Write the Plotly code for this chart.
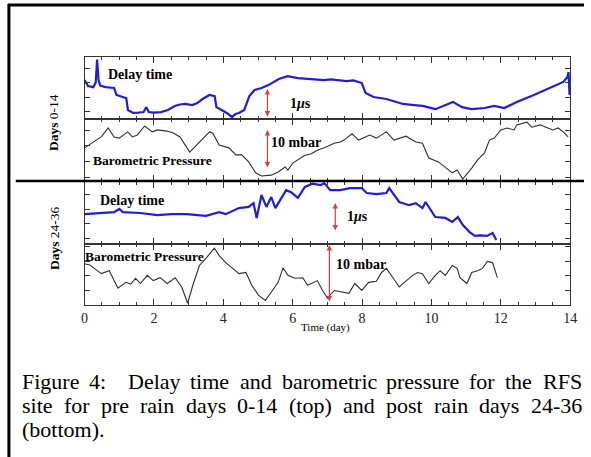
import plotly.graph_objects as go

W, H = 591, 457

# ---------------- data ----------------
top_delay_day = [0.00, 0.10, 0.25, 0.32, 0.36, 0.40, 0.45, 0.60, 0.85, 0.92, 1.10, 1.20, 1.25, 1.40, 1.55,
                 1.70, 1.78, 1.85, 2.00, 2.20, 2.40, 2.60, 2.75, 2.90, 3.10, 3.25, 3.40, 3.60, 3.75, 3.80,
                 3.95, 4.10, 4.25, 4.35, 4.45, 4.60, 4.75, 4.90, 5.10, 5.30, 5.60, 5.85, 6.15, 6.50, 6.90,
                 7.10, 7.30, 7.55, 7.75, 7.90, 7.99, 8.10, 8.33, 8.70, 9.00, 9.18, 9.50, 9.75, 10.11, 10.40,
                 10.62, 10.88, 11.16, 11.53, 11.81, 12.10, 12.46, 12.95, 13.43, 13.80, 13.92, 13.95, 13.98]
top_delay_us = [1.34, 1.14, 1.10, 1.25, 2.05, 1.35, 1.15, 1.10, 1.07, 0.83, 0.76, 0.72, 0.31, 0.21, 0.22,
                0.24, 0.41, 0.24, 0.22, 0.24, 0.31, 0.45, 0.50, 0.52, 0.48, 0.55, 0.69, 0.83, 0.79, 0.41,
                0.31, 0.21, 0.07, 0.17, 0.21, 0.31, 0.79, 1.00, 1.07, 1.17, 1.38, 1.48, 1.41, 1.38, 1.34,
                1.37, 1.34, 1.31, 1.33, 1.28, 1.24, 0.90, 0.76, 0.69, 0.60, 0.52, 0.48, 0.45, 0.34, 0.48,
                0.59, 0.41, 0.34, 0.38, 0.45, 0.38, 0.59, 0.83, 1.07, 1.28, 1.45, 1.62, 0.83]

top_press_day = [0.00, 0.20, 0.48, 0.68, 0.85, 1.00, 1.24, 1.38, 1.52, 1.73, 1.95, 2.09, 2.37, 2.56, 2.75,
                 3.03, 3.22, 3.41, 3.60, 3.69, 3.88, 4.16, 4.36, 4.53, 4.73, 4.93, 5.10, 5.38, 5.58, 5.78,
                 5.86, 6.00, 6.15, 6.35, 6.52, 6.71, 6.91, 7.08, 7.20, 7.37, 7.48, 7.71, 7.90, 8.22, 8.41,
                 8.70, 8.92, 9.26, 9.55, 9.74, 9.92, 10.20, 10.40, 10.60, 10.74, 10.90, 11.16, 11.33, 11.53,
                 11.67, 11.81, 12.00, 12.18, 12.38, 12.46, 12.75, 12.89, 13.14, 13.30, 13.50, 13.65, 13.80,
                 13.94]
top_press_mbar = [8.5, 9.7, 11.3, 13.6, 11.3, 11.0, 12.6, 11.3, 11.8, 14.1, 12.6, 13.1, 12.8, 12.3, 11.3,
                  7.4, 9.2, 11.0, 12.6, 12.3, 9.2, 8.5, 6.7, 6.7, 4.9, 2.1, 1.3, 1.5, 2.3, 3.6,
                  2.8, 4.6, 5.4, 6.6, 6.9, 7.9, 8.5, 9.2, 9.7, 10.0, 10.5, 12.1, 10.5, 11.8, 11.0,
                  12.6, 10.5, 11.5, 10.0, 9.7, 5.9, 4.9, 3.6, 2.1, 2.8, 0.5, 3.3, 5.4, 7.2,
                  10.5, 11.0, 13.1, 13.6, 13.1, 14.4, 15.1, 13.8, 14.4, 13.8, 13.1, 13.6, 12.6,
                  11.3]

bot_delay_day = [0.00, 0.48, 0.85, 1.00, 1.10, 1.60, 2.10, 2.50, 2.94, 3.50, 3.88, 4.07, 4.45, 4.73, 4.87,
                 4.96, 5.10, 5.24, 5.38, 5.50, 5.67, 5.81, 5.95, 6.15, 6.35, 6.57, 6.80, 6.91, 7.08, 7.37,
                 7.65, 7.99, 8.13, 8.41, 8.70, 8.78, 9.07, 9.35, 9.55, 9.74, 9.83, 10.11, 10.40, 10.60,
                 10.76, 10.90, 11.10, 11.25, 11.40, 11.60, 11.76, 11.87]
bot_delay_us = [1.03, 1.07, 1.10, 1.21, 1.10, 1.07, 1.00, 1.03, 1.03, 0.97, 1.10, 1.03, 1.24, 1.28, 1.41,
                0.90, 1.69, 1.28, 1.62, 1.24, 1.59, 1.86, 1.79, 1.59, 1.97, 2.08, 2.03, 2.10, 1.86, 1.86,
                1.93, 1.93, 1.76, 1.72, 1.76, 1.93, 1.45, 1.34, 1.41, 1.24, 1.45, 0.93, 0.90, 0.76,
                0.93, 0.66, 0.41, 0.28, 0.30, 0.28, 0.38, 0.14]

bot_press_day = [0.00, 0.15, 0.48, 0.71, 0.96, 1.19, 1.33, 1.47, 1.61, 1.81, 1.98, 2.18, 2.38, 2.61, 2.80,
                 2.97, 3.12, 3.31, 3.51, 3.74, 3.88, 4.07, 4.25, 4.45, 4.65, 4.82, 5.01, 5.21, 5.38, 5.58,
                 5.72, 5.86, 6.06, 6.29, 6.43, 6.71, 6.86, 7.00, 7.20, 7.42, 7.62, 7.79, 7.99, 8.19, 8.41,
                 8.56, 8.70, 8.90, 9.07, 9.26, 9.46, 9.60, 9.74, 9.92, 10.11, 10.25, 10.40, 10.60, 10.74,
                 10.82, 11.02, 11.16, 11.33, 11.47, 11.61, 11.76, 11.90]
bot_press_mbar = [7.1, 6.9, 5.4, 5.9, 2.9, 3.9, 3.6, 4.6, 3.7, 5.1, 4.2, 4.7, 3.7, 4.7, 3.1,
                  0.3, 3.4, 6.8, 8.1, 9.8, 8.5, 7.3, 6.4, 5.4, 5.6, 3.4, 1.7, 0.8, 2.2, 3.9,
                  6.4, 5.1, 4.6, 4.7, 3.4, 4.2, 2.5, 1.2, 2.5, 2.2, 2.0, 3.7, 2.5, 3.9, 4.1,
                  5.6, 6.3, 4.6, 3.1, 4.1, 5.1, 5.6, 5.4, 3.7, 5.1, 5.9, 5.1, 6.8, 6.3,
                  4.7, 3.7, 5.6, 5.9, 6.3, 7.5, 7.3, 4.7]

x_tick_labels = ["0", "2", "4", "6", "8", "10", "12", "14"]

caption_lines = ["Figure 4:  Delay time and barometric pressure for the RFS",
                 "site for pre rain days 0-14 (top) and post rain days 24-36",
                 "(bottom)."]

# ---------------- helpers ----------------
def px(x):
    return x / W


def py(y):
    return 1 - y / H


SERIF = "Liberation Serif, Times New Roman, serif"
BLUE = "#1f1fd2"
GRAY = "#2e2e2e"
RED = "#e03a3a"
AX = "#333333"

fig = go.Figure()
fig.add_trace(go.Scatter(x=top_delay_day, y=top_delay_us, xaxis="x", yaxis="y", mode="lines",
                         line=dict(color=BLUE, width=2.2)))
fig.add_trace(go.Scatter(x=top_press_day, y=top_press_mbar, xaxis="x2", yaxis="y2", mode="lines",
                         line=dict(color=GRAY, width=1.1)))
fig.add_trace(go.Scatter(x=bot_delay_day, y=bot_delay_us, xaxis="x3", yaxis="y3", mode="lines",
                         line=dict(color=BLUE, width=2.2)))
fig.add_trace(go.Scatter(x=bot_press_day, y=bot_press_mbar, xaxis="x4", yaxis="y4", mode="lines",
                         line=dict(color=GRAY, width=1.1)))

rows = [(57, 119), (119, 181), (182, 244), (244, 305)]
yranges = [[0, 2.14], [0, 15.9], [0, 2.14], [0, 10.5]]
ydt = [(0.25, 0.5), (1, 4), (0.2, 0.5), (0, 2.5)]

layout = dict(width=W, height=H, autosize=False, margin=dict(l=0, r=0, t=0, b=0),
              paper_bgcolor="white", plot_bgcolor="white", showlegend=False)

for i in range(4):
    sx = "" if i == 0 else str(i + 1)
    top, bot = rows[i]
    layout["xaxis" + sx] = dict(
        domain=[px(83), px(577)], range=[0, 14], anchor="y" + sx,
        showline=True, linecolor=AX, linewidth=1, mirror="ticks",
        ticks="inside", ticklen=6, tickcolor=AX, tickwidth=1,
        tickvals=[0, 2, 4, 6, 8, 10, 12, 14], ticktext=x_tick_labels,
        showticklabels=(i == 3), showgrid=False, zeroline=False,
        tickfont=dict(family=SERIF, size=14, color="#222"),
        minor=dict(dtick=0.5, tick0=0, ticks="inside", ticklen=3, tickcolor=AX, showgrid=False),
        fixedrange=True)
    layout["yaxis" + sx] = dict(
        domain=[py(bot), py(top)], range=yranges[i], anchor="x" + sx,
        showline=True, linecolor=AX, linewidth=1, mirror="ticks",
        ticks="inside", ticklen=5, tickcolor=AX, tick0=ydt[i][0], dtick=ydt[i][1],
        showticklabels=False, showgrid=False, zeroline=False, fixedrange=True)

fig.update_layout(**layout)

ann = []


def label(text, x, y, size, angle=0):
    ann.append(dict(text=text, x=px(x), y=py(y), xref="paper", yref="paper", showarrow=False,
                    xanchor="center", yanchor="middle", textangle=angle,
                    font=dict(family=SERIF, size=size, color="black")))


label("<b>Delay time</b>", 139, 75, 14)
label("<b>Barometric Pressure</b>", 152, 160, 13.5)
label("<b>1<i>μ</i>s</b>", 303, 103, 14)
label("<b>10 mbar</b>", 298, 143, 14)
label("<b>Delay time</b>", 131, 200, 14)
label("<b>Barometric Pressure</b>", 144, 256, 13.5)
label("<b>1<i>μ</i>s</b>", 361, 217, 14)
label("<b>10 mbar</b>", 364, 264, 14)
label("<b>Days</b> 0-14", 52, 123, 13.5, -90)
label("<b>Days</b> 24-36", 52, 238, 13.5, -90)
label("Time (day)", 328, 327, 11)


def arrow(x, y0, y1):
    ann.append(dict(text="", x=px(x), y=py(y0), xref="paper", yref="paper", showarrow=True,
                    ax=0, ay=(y1 - y0), axref="pixel", ayref="pixel",
                    arrowhead=2, arrowside="end+start", arrowsize=0.9, arrowwidth=1.2,
                    arrowcolor=RED))


arrow(269, 89, 118)
arrow(269, 130, 169)
arrow(338, 203, 232)
arrow(332, 245, 303)

# caption (justified lines built word by word)
TW = {" ": 250, "(": 333, ")": 333, "-": 333, ".": 250, ":": 278, "F": 556, "D": 722, "R": 667,
      "S": 556, "a": 444, "b": 500, "c": 444, "d": 500, "e": 444, "f": 333, "g": 500, "h": 500,
      "i": 278, "l": 278, "m": 778, "n": 500, "o": 500, "p": 500, "r": 333, "s": 389, "t": 278,
      "u": 500, "y": 500}


def tw(s, fs):
    return sum(TW.get(c, 500) for c in s) * fs / 1000.0


CAP_FS = 22
x_left, x_right = 18, 587
centers = [381, 405, 429]
for li, line in enumerate(caption_lines):
    toks = line.split(" ")
    nsp = len(toks) - 1
    natural = sum(tw(t, CAP_FS) for t in toks) + nsp * tw(" ", CAP_FS)
    if li < 2:
        sp = tw(" ", CAP_FS) + (x_right - x_left - natural) / nsp
    else:
        sp = tw(" ", CAP_FS)
    cur = x_left
    for t in toks:
        if t:
            ann.append(dict(text=t, x=px(cur - 1), y=py(centers[li]), xref="paper", yref="paper",
                            showarrow=False, xanchor="left", yanchor="middle",
                            font=dict(family=SERIF, size=CAP_FS, color="black")))
        cur += tw(t, CAP_FS) + sp

fig.update_layout(annotations=ann)

shapes = [
    dict(type="line", xref="paper", yref="paper", x0=px(13), x1=1, y0=py(181), y1=py(181),
         line=dict(color="black", width=2.5)),
    dict(type="line", xref="paper", yref="paper", x0=px(6), x1=px(6), y0=py(4), y1=0,
         line=dict(color="black", width=3)),
    dict(type="line", xref="paper", yref="paper", x0=px(5), x1=1, y0=py(5), y1=py(5),
         line=dict(color="black", width=3)),
]
fig.update_layout(shapes=shapes)

fig.write_html("out.html", config={"displayModeBar": False, "staticPlot": True})

# remove the default page margin so the figure sits at the window origin
with open("out.html", "r", encoding="utf-8") as f:
    html = f.read()
html = html.replace("<head>", "<head><style>html,body{margin:0;padding:0;overflow:hidden;}</style>", 1)
with open("out.html", "w", encoding="utf-8") as f:
    f.write(html)
